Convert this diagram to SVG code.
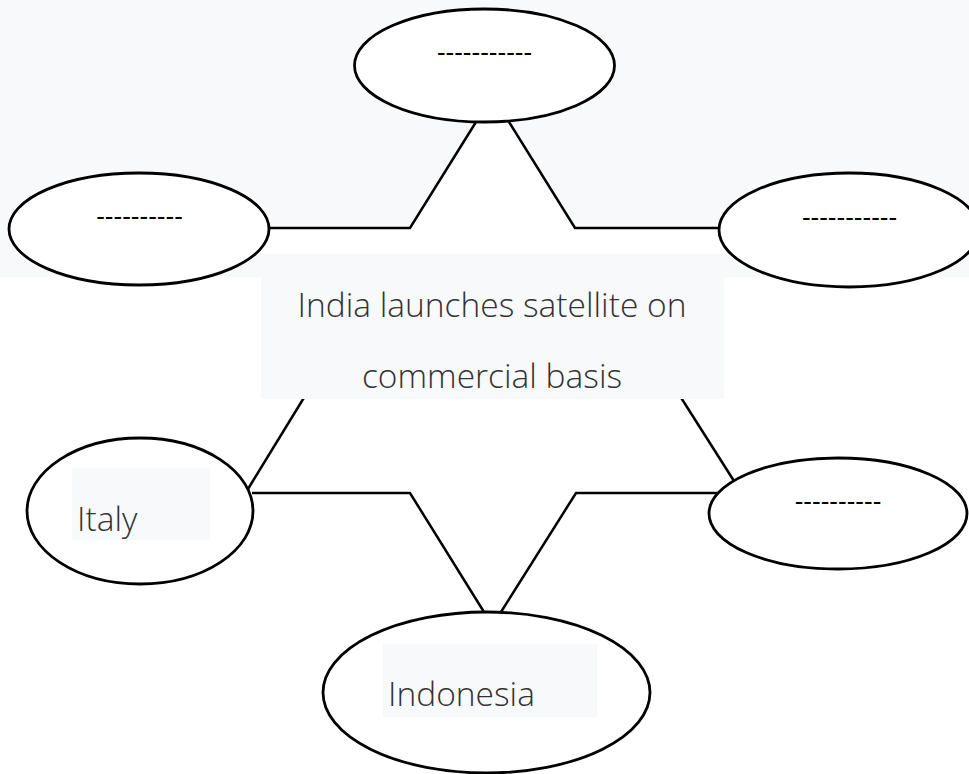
<svg xmlns="http://www.w3.org/2000/svg" width="969" height="774" viewBox="0 0 969 774">
<style>
.bg{fill:#f8f9fa}
.node{fill:#ffffff;stroke:#000;stroke-width:2.8}
.conn{fill:none;stroke:#000;stroke-width:2.5;stroke-linejoin:miter}
.dash{font-family:"Liberation Sans",Arial,sans-serif;font-size:26px;fill:#000;text-anchor:middle}
.lbl{font-family:"Open Sans","Liberation Sans",sans-serif;font-weight:300;font-size:33.5px;fill:#333}
</style>
<rect x="0" y="0" width="969" height="277" class="bg"/>
<polygon points="476,122 410,228 261,228 261,255 724,255 724,228 575,228 509,122" fill="#fff"/>
<g id="connectors">
<polyline class="conn" points="476,122 410,228 269,228"/>
<polyline class="conn" points="509,122 575,228 719,228"/>
<polyline class="conn" points="305,396 248,489"/>
<polyline class="conn" points="680,396 734,481"/>
<polyline class="conn" points="252,493 410,493 484,612"/>
<polyline class="conn" points="717,493 576,493 501,612"/>
</g>
<g id="center">
<rect x="261" y="254" width="463" height="145" class="bg"/>
<text class="lbl" x="492" y="317" text-anchor="middle">India launches satellite on</text>
<text class="lbl" x="492" y="388" text-anchor="middle">commercial basis</text>
</g>
<g id="node-top">
<ellipse class="node" cx="484.5" cy="65.5" rx="130" ry="56.5"/>
<text class="dash" x="484.5" y="61">-----------</text>
</g>
<g id="node-left">
<ellipse class="node" cx="139" cy="229" rx="130" ry="56"/>
<text class="dash" x="139.5" y="225">----------</text>
</g>
<g id="node-right">
<ellipse class="node" cx="849" cy="230" rx="130" ry="57"/>
<text class="dash" x="849.5" y="226">-----------</text>
</g>
<g id="node-italy">
<ellipse class="node" cx="140" cy="511" rx="113" ry="73"/>
<rect x="72" y="468" width="138" height="72" class="bg"/>
<text class="lbl" x="77" y="531">Italy</text>
</g>
<g id="node-lower-right">
<ellipse class="node" cx="838" cy="513.5" rx="129" ry="55.5"/>
<text class="dash" x="838" y="510">----------</text>
</g>
<g id="node-indonesia">
<ellipse class="node" cx="486.5" cy="692.5" rx="163.5" ry="80.5"/>
<rect x="383" y="644" width="214" height="73" class="bg"/>
<text class="lbl" x="388" y="706">Indonesia</text>
</g>
</svg>
